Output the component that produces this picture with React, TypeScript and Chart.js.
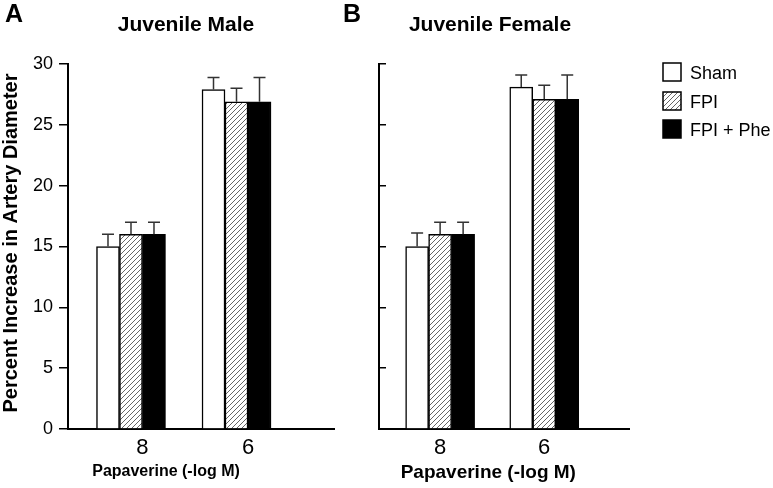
import React, { useEffect, useRef } from 'react';
import { Chart, registerables } from 'chart.js';

Chart.register(...registerables);

// ---- data ----
const doseLabels = ['8', '6'];
const groupNames = ['Sham', 'FPI', 'FPI + Phe'];
const yTickValues = [0, 5, 10, 15, 20, 25, 30];

const maleSham = [15.0, 27.9];
const maleShamErr = [1.0, 1.0];
const maleFpi = [16.0, 26.9];
const maleFpiErr = [1.0, 1.1];
const malePhe = [16.0, 26.9];
const malePheErr = [1.0, 2.0];

const femaleSham = [15.0, 28.1];
const femaleShamErr = [1.1, 1.0];
const femaleFpi = [16.0, 27.1];
const femaleFpiErr = [1.0, 1.15];
const femalePhe = [16.0, 27.1];
const femalePheErr = [1.0, 2.0];

const FONT = '"Liberation Sans", Arial, Helvetica, sans-serif';

function makeHatch(): any {
  const c = document.createElement('canvas');
  c.width = 5;
  c.height = 5;
  const g = c.getContext('2d')!;
  g.fillStyle = '#fff';
  g.fillRect(0, 0, 5, 5);
  g.strokeStyle = '#666';
  g.lineWidth = 1;
  g.beginPath();
  g.moveTo(-1, 6);
  g.lineTo(6, -1);
  g.moveTo(-1, 1);
  g.lineTo(1, -1);
  g.moveTo(4, 6);
  g.lineTo(6, 4);
  g.stroke();
  return g.createPattern(c, 'repeat');
}

function pts(vals: (number | null)[]) {
  return vals.map((v, i) => ({ x: i, y: v }));
}

type TextItem = { text: string; x: number; y: number; font: string; align: CanvasTextAlign; rotate?: boolean };

function textPlugin(items: TextItem[]) {
  return {
    id: 'texts',
    afterDraw(chart: any) {
      const ctx = chart.ctx;
      ctx.save();
      ctx.fillStyle = '#000';
      ctx.textBaseline = 'alphabetic';
      items.forEach((t) => {
        ctx.font = t.font;
        ctx.textAlign = t.align;
        if (t.rotate) {
          ctx.save();
          ctx.translate(t.x, t.y);
          ctx.rotate(-Math.PI / 2);
          ctx.fillText(t.text, 0, 0);
          ctx.restore();
        } else {
          ctx.fillText(t.text, t.x, t.y);
        }
      });
      ctx.restore();
    },
  };
}

function errorPlugin(errs: number[][]) {
  return {
    id: 'errbars',
    afterDatasetsDraw(chart: any) {
      const ctx = chart.ctx;
      const ys = chart.scales.y;
      ctx.save();
      ctx.strokeStyle = '#333';
      ctx.lineWidth = 1.5;
      errs.forEach((arr, di) => {
        const meta = chart.getDatasetMeta(di);
        meta.data.forEach((el: any, j: number) => {
          const d: any = chart.data.datasets[di].data[j];
          if (!d || d.y == null) return;
          const top = ys.getPixelForValue(d.y);
          const e = ys.getPixelForValue(d.y + arr[j]);
          const x = el.x;
          ctx.beginPath();
          ctx.moveTo(x, top);
          ctx.lineTo(x, e);
          ctx.moveTo(x - 6, e);
          ctx.lineTo(x + 6, e);
          ctx.stroke();
        });
      });
      ctx.restore();
    },
  };
}

function legendPlugin(fills: any[], x: number, centers: number[], textX: number) {
  return {
    id: 'customLegend',
    afterDraw(chart: any) {
      const ctx = chart.ctx;
      ctx.save();
      groupNames.forEach((name, i) => {
        const cy = centers[i];
        ctx.fillStyle = fills[i];
        ctx.fillRect(x, cy - 9, 18, 18);
        ctx.strokeStyle = '#000';
        ctx.lineWidth = 1.5;
        ctx.strokeRect(x, cy - 9, 18, 18);
        ctx.fillStyle = '#000';
        ctx.font = `18px ${FONT}`;
        ctx.textAlign = 'left';
        ctx.textBaseline = 'alphabetic';
        ctx.fillText(name, textX, cy + 6.5);
      });
      ctx.restore();
    },
  };
}

function buildConfig(opts: {
  values: number[][];
  errors: number[][];
  placeholder: boolean;
  xMin: number;
  xMax: number;
  yWidth: number;
  padRight: number;
  tickLength: number;
  showYLabels: boolean;
  fills: any[];
  plugins: any[];
}): any {
  const datasets: any[] = opts.values.map((vals, i) => ({
    label: groupNames[i],
    data: pts(vals),
    backgroundColor: opts.fills[i],
    borderColor: '#000',
    borderWidth: 1.5,
    barThickness: 23,
  }));
  if (opts.placeholder) {
    datasets.push({
      label: '',
      data: pts([null, null]),
      backgroundColor: 'rgba(0,0,0,0)',
      borderWidth: 0,
      barThickness: 23,
    });
  }
  return {
    type: 'bar',
    data: { datasets },
    options: {
      responsive: false,
      animation: false,
      layout: { padding: { top: 64, left: 0, right: opts.padRight, bottom: 0 } },
      plugins: { legend: { display: false }, tooltip: { enabled: false }, title: { display: false } },
      scales: {
        x: {
          type: 'linear',
          min: opts.xMin,
          max: opts.xMax,
          offset: false,
          afterBuildTicks: (s: any) => {
            s.ticks = doseLabels.map((_, i) => ({ value: i }));
          },
          afterFit: (s: any) => {
            s.height = 59;
          },
          grid: { display: true, drawOnChartArea: false, drawTicks: false, offset: false },
          border: { display: true, color: '#000', width: 2 },
          ticks: {
            color: '#000',
            font: { family: FONT, size: 22 },
            padding: 6,
            maxRotation: 0,
            autoSkip: false,
            callback: (_v: any, i: number) => doseLabels[i] ?? '',
          },
        },
        y: {
          min: 0,
          max: 30,
          afterBuildTicks: (s: any) => {
            s.ticks = yTickValues.map((v) => ({ value: v }));
          },
          afterFit: (s: any) => {
            s.width = opts.yWidth;
          },
          grid: {
            drawOnChartArea: false,
            drawTicks: true,
            tickLength: opts.tickLength,
            color: '#000',
            lineWidth: 1.5,
          },
          border: { display: true, color: '#000', width: 2 },
          ticks: {
            display: opts.showYLabels,
            color: '#000',
            font: { family: FONT, size: 18 },
            padding: 6,
          },
        },
      },
    },
    plugins: opts.plugins,
  };
}

export default function App() {
  const refA = useRef<HTMLCanvasElement>(null);
  const refB = useRef<HTMLCanvasElement>(null);

  useEffect(() => {
    const hatch = makeHatch();
    const fills = ['#fff', hatch, '#000'];

    const cfgA = buildConfig({
      values: [maleSham, maleFpi, malePhe],
      errors: [maleShamErr, maleFpiErr, malePheErr],
      placeholder: true,
      xMin: -0.706,
      xMax: 1.815,
      yWidth: 68,
      padRight: 6,
      tickLength: 9,
      showYLabels: true,
      fills,
      plugins: [
        errorPlugin([maleShamErr, maleFpiErr, malePheErr]),
        textPlugin([
          { text: 'A', x: 5, y: 22, font: `bold 25px ${FONT}`, align: 'left' },
          { text: 'Juvenile Male', x: 186, y: 31, font: `bold 21px ${FONT}`, align: 'center' },
          { text: 'Percent Increase in Artery Diameter', x: 16.5, y: 243, font: `bold 20px ${FONT}`, align: 'center', rotate: true },
          { text: 'Papaverine (-log M)', x: 166, y: 476, font: `bold 16px ${FONT}`, align: 'center' },
        ]),
      ],
    });

    const cfgB = buildConfig({
      values: [femaleSham, femaleFpi, femalePhe],
      errors: [femaleShamErr, femaleFpiErr, femalePheErr],
      placeholder: false,
      xMin: -0.587,
      xMax: 1.817,
      yWidth: 39,
      padRight: 143.7,
      tickLength: -7,
      showYLabels: false,
      fills,
      plugins: [
        errorPlugin([femaleShamErr, femaleFpiErr, femalePheErr]),
        textPlugin([
          { text: 'B', x: 3, y: 22, font: `bold 25px ${FONT}`, align: 'left' },
          { text: 'Juvenile Female', x: 150, y: 31, font: `bold 21px ${FONT}`, align: 'center' },
          { text: 'Papaverine (-log M)', x: 148.3, y: 478, font: `bold 19px ${FONT}`, align: 'center' },
        ]),
        legendPlugin(fills, 323, [72, 101, 129], 350),
      ],
    });

    const a = new Chart(refA.current!, cfgA);
    const b = new Chart(refB.current!, cfgB);
    return () => {
      a.destroy();
      b.destroy();
    };
  }, []);

  return (
    <div style={{ position: 'absolute', left: 0, top: 0, width: 773, height: 488, background: '#fff' }}>
      <canvas ref={refA} width={340} height={488} style={{ position: 'absolute', left: 0, top: 0, width: 340, height: 488 }} />
      <canvas ref={refB} width={433} height={488} style={{ position: 'absolute', left: 340, top: 0, width: 433, height: 488 }} />
    </div>
  );
}
